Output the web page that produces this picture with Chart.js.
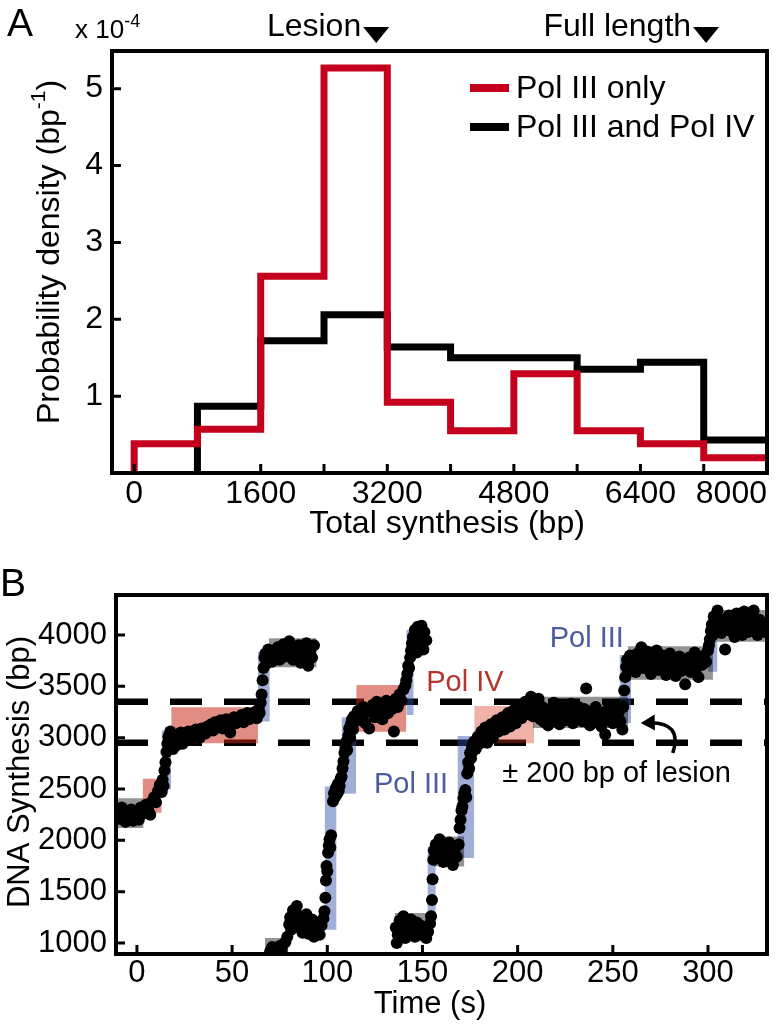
<!DOCTYPE html>
<html><head><meta charset="utf-8">
<script src="https://cdn.jsdelivr.net/npm/chart.js@4.4.1/dist/chart.umd.min.js"></script>
<style>
html,body{margin:0;padding:0;background:#fff;width:783px;height:1024px;overflow:hidden;font-family:"Liberation Sans",Arial,Helvetica,sans-serif;}
#wrapA{position:absolute;left:0;top:0;width:783px;height:545px;}
#wrapB{position:absolute;left:0;top:545px;width:783px;height:479px;}
.lbl{position:absolute;color:#000;white-space:nowrap;line-height:1;}
</style></head><body>
<div id="wrapA"><canvas id="chartA" width="783" height="545"></canvas></div>
<div id="wrapB"><canvas id="chartB" width="783" height="479"></canvas></div>
<div class="lbl" style="left:7px;top:3px;font-size:39px">A</div>
<div class="lbl" style="left:75px;top:16px;font-size:26px">x 10<span style="font-size:18px;position:relative;top:-11px">-4</span></div>
<div class="lbl" style="left:0px;top:563px;font-size:39px">B</div>
<script>
// ---------------- Panel A data ----------------
const binEdges = [0, 800, 1600, 2400, 3200, 4000, 4800, 5600, 6400, 7200, 8000];
const polIIIOnly = [0.38, 0.57, 2.56, 5.27, 0.92, 0.55, 1.29, 0.55, 0.38, 0.20];
const polIIIandIV = [0, 0.87, 1.72, 2.06, 1.64, 1.50, 1.50, 1.35, 1.44, 0.43];
const seriesNamesA = ['Pol III only', 'Pol III and Pol IV'];
const xTickLabelsA = [0, 1600, 3200, 4800, 6400, 8000];
const yTicksA = [1, 2, 3, 4, 5];
const markersA = [{label: 'Lesion', x: 3060}, {label: 'Full length', x: 7230}];

// ---------------- Panel B data ----------------
const xTicksB = [0, 50, 100, 150, 200, 250, 300];
const yTicksB = [1000, 1500, 2000, 2500, 3000, 3500, 4000];
const lesionBand = [2950, 3350];

const trace1Time = [-10,-9,-8,-7,-6,-5,-4,-3,-2,-1,0,1,2,3,4,5,6,7,8,9,10,11,12,13,
  13.5,14,14.5,15,15.5,16,16.5,17,17.5,
  18,19,20,21,22,23,24,25,26,27,28,29,30,31,32,33,34,35,36,37,38,39,40,41,42,43,44,45,46,47,48,49,50,51,52,53,54,55,56,57,58,59,60,61,62,63,64,
  64.5,65,65.5,66,66.5,67,67.5,
  68,69,70,71,72,73,74,75,76,77,78,79,80,81,82,83,84,85,86,87,88,89,90,91,92,93];
const trace1Bp = [2290,2210,2320,2240,2180,2270,2230,2300,2190,2250,2280,2200,2320,2260,2310,2350,2290,2250,2380,2420,2370,2480,2540,2470,
  2590,2530,2680,2760,2860,2940,3010,2920,3060,
  2980,2890,3020,2930,2970,3050,2940,3000,2980,3060,2990,3020,3010,3080,3030,3000,3090,3060,3040,3110,3080,3130,3070,3150,3100,3120,3170,3090,3140,3180,3120,3050,3160,3200,3140,3190,3170,3220,3150,3210,3240,3180,3230,3200,3250,3190,3280,
  3240,3340,3420,3560,3680,3780,3820,
  3720,3860,3790,3740,3850,3800,3880,3760,3830,3910,3790,3860,3940,3820,3760,3880,3810,3900,3730,3850,3790,3920,3700,3840,3780,3900];

const trace2Time = [70,71,72,73,74,75,76,77,78,79,80,80.5,
  81,82,83,84,85,86,87,88,89,90,91,92,93,94,95,96,97,98,
  98.5,99,99.3,99.6,100,100.4,100.8,101.2,101.6,102,
  103,103.5,104,104.5,105,105.5,106,106.5,107,107.5,108,108.5,109,109.5,110,110.5,111,111.5,112,112.5,113,113.5,114,
  115,116,117,118,119,120,121,122,123,124,125,126,127,128,129,130,131,132,133,134,135,136,137,138,139,140,141,
  141.5,142,142.5,143,143.5,144,144.5,145,145.5,146,146.5,147,147.5,148,148.5,149,149.5,150,150.5,151,152];
const trace2Bp = [920,960,910,940,900,970,930,990,1010,1060,1180,1250,
  1130,1320,1200,1360,1150,1260,1100,1210,1280,1090,1170,1230,1060,1150,1200,1080,1170,1240,
  1310,1440,1610,1750,1700,1880,1950,2010,1930,2050,
  2380,2460,2420,2510,2450,2550,2480,2530,2600,2620,2700,2770,2850,2900,2960,2880,3020,3090,3000,3140,3180,3080,3210,
  3160,3260,3190,3230,3300,3140,3250,3090,3280,3320,3200,3350,3260,3310,3180,3290,3360,3240,3330,3280,3060,3380,3300,3420,3360,3470,3510,
  3560,3620,3700,3680,3780,3850,3920,3980,3890,4050,3950,3830,4080,3920,3870,4000,4090,3940,3860,4030,3950];

const trace3Time = [136,136.5,137,138,139,140,141,142,143,144,145,146,147,148,149,150,151,152,153,154,
  154.5,155,155.3,155.7,
  156,157,158,159,160,161,162,163,164,165,166,167,168,169,
  169.5,170,170.5,171,171.5,172,172.5,173,173.5,174,174.5,175,175.5,176,176.5,177,
  178,179,180,181,182,183,184,185,186,187,188,189,190,191,192,193,194,195,196,197,198,199,200,
  201,202,203,204,205,206,207,208,209,210,211,212,213,214,215,216,217,218,219,220,221,222,223,224,225,
  226,227,228,229,230,231,232,233,234,235,236,237,238,239,240,241,242,243,244,245,246,247,248,249,250,
  251,252,253,254,255,
  255.5,256,256.5,257,257.5,
  258,259,260,261,262,263,264,265,266,267,268,269,270,271,272,273,274,275,276,277,278,279,280,
  281,282,283,284,285,286,287,288,289,290,291,292,293,294,295,296,297,298,299,300,
  300.5,301,301.5,302,302.5,303,
  304,305,306,307,308,309,310,311,312,313,314,315,316,317,318,319,320,321,322,323,324,325,326,327,328,329,330];
const trace3Bp = [1150,1000,1080,1220,1120,1260,1050,1180,1100,1230,1140,1060,1200,1120,1170,1080,1150,1050,1110,1190,
  1260,1420,1620,1810,
  1900,1960,1850,2010,1890,1790,1940,1860,1980,1820,1760,1910,1840,1960,
  2120,2200,2290,2330,2410,2460,2490,2420,2650,2760,2700,2850,2800,2920,2870,2960,
  2890,3010,2940,3060,2980,3100,2950,3040,3130,3000,3090,3170,3060,3120,3200,3080,3150,3240,3110,3180,3270,3140,3220,
  3300,3190,3250,3350,3230,3290,3400,3210,3330,3260,3380,3180,3300,3150,3250,3120,3280,3200,3340,3160,3260,3130,3230,3310,3170,
  3270,3200,3330,3140,3250,3190,3300,3220,3160,3280,3480,3210,3120,3260,3180,3300,3150,3240,3110,3200,3030,3270,3170,3230,3140,
  3280,3190,3240,3160,3080,
  3300,3460,3590,3690,3760,
  3650,3800,3700,3750,3640,3820,3720,3880,3680,3760,3840,3700,3620,3780,3730,3850,3660,3750,3800,3690,3610,3740,3820,
  3680,3760,3600,3720,3790,3650,3740,3520,3700,3780,3640,3730,3830,3680,3590,3760,3710,3800,3740,3850,
  3900,3960,4040,4100,4000,4180,
  4060,4240,4110,4020,4150,3860,4080,4190,4040,4120,3980,4210,4070,4140,4000,4230,4090,4030,4160,4060,4240,4110,4000,4150,4050,4120,4030];

// shaded intervals [tStart, tEnd, bpLow, bpHigh]
const grayBoxes = [[-11,3.5,2120,2410],[69.3,94.4,3686,3968],[67.2,79.5,880,1050],[135.6,155,1015,1292],
  [156,172,1746,2038],[208,258,3095,3400],[258,302.6,3565,3890],[304.4,331,3935,4243]];
const redBoxes = [[3,13,2270,2600],[18,63.6,2946,3297],[115.2,141.5,3059,3513]];
const redLightBoxes = [[177.2,208.7,2946,3309]];
const blueBoxes = [[13,18,2499,3069],[63.6,69.8,3157,3838],[98.6,104.9,1130,2524],[107.5,115.2,2453,3199],
  [141.5,145.4,3222,4049],[152.6,157,1210,1940],[168.4,177.2,1827,3017],[253.5,259.6,3141,3805],[300,305,3643,4178]];

// annotation texts (data coordinates of text centre)
const notesB = [
  {text: 'Pol IV', x: 172.3, y: 3533, color: '#b3352b'},
  {text: 'Pol III', x: 236.3, y: 3961, color: '#4b5d9e'},
  {text: 'Pol III', x: 144, y: 2539, color: '#4b5d9e'},
  {text: '\u00b1 200 bp of lesion', x: 252, y: 2646, color: '#000'}
];
const arrowB = {from: {x: 281.5, y: 2851}, ctrl: {x: 286.8, y: 3153}, to: {x: 262.6, y: 3143}};

// ---------------- helpers ----------------
const FONT = '"Liberation Sans", Arial, Helvetica, sans-serif';
Chart.defaults.font.family = FONT;
Chart.defaults.color = '#000';
const RED = '#c4001c';

function histPoints(edges, vals) {
  let i0 = vals.findIndex(v => v > 0);
  const pts = [{x: edges[i0], y: 0}];
  for (let i = i0; i < vals.length; i++) pts.push({x: edges[i], y: vals[i]});
  pts.push({x: edges[edges.length - 1], y: vals[vals.length - 1]});
  return pts;
}
function zip(ts, vs) { return ts.map((t, i) => ({x: t, y: vs[i]})); }

function drawFrame(chart, xVals, yVals) {
  const {ctx, chartArea: {left, right, top, bottom}, scales: {x, y}} = chart;
  ctx.save();
  ctx.strokeStyle = '#000';
  ctx.lineWidth = 3;
  ctx.beginPath();
  xVals.forEach(v => { const px = x.getPixelForValue(v); ctx.moveTo(px, bottom); ctx.lineTo(px, bottom - 9); });
  yVals.forEach(v => { const py = y.getPixelForValue(v); ctx.moveTo(left, py); ctx.lineTo(left + 9, py); });
  ctx.stroke();
  ctx.lineWidth = 4;
  ctx.strokeRect(left, top, right - left, bottom - top);
  ctx.restore();
}
function drawRotatedParts(ctx, cx, cy, parts) {
  ctx.save();
  ctx.translate(cx, cy);
  ctx.rotate(-Math.PI / 2);
  ctx.textBaseline = 'middle';
  ctx.textAlign = 'left';
  let total = 0;
  parts.forEach(p => { ctx.font = p.size + 'px ' + FONT; p.w = ctx.measureText(p.text).width; total += p.w; });
  let xx = -total / 2;
  parts.forEach(p => { ctx.font = p.size + 'px ' + FONT; ctx.fillText(p.text, xx, p.dy || 0); xx += p.w; });
  ctx.restore();
}

// ---------------- Chart A ----------------
const panelAPlugin = {
  id: 'panelA',
  afterDraw(chart) {
    const {ctx, scales: {x}} = chart;
    drawFrame(chart, binEdges, yTicksA);
    ctx.save();
    chart.data.datasets.forEach((ds, i) => {
      const ly = 88 + i * 39;
      ctx.strokeStyle = ds.borderColor; ctx.lineWidth = 8;
      ctx.beginPath(); ctx.moveTo(470, ly); ctx.lineTo(509, ly); ctx.stroke();
      ctx.fillStyle = '#000'; ctx.font = '32px ' + FONT; ctx.textBaseline = 'middle'; ctx.textAlign = 'left';
      ctx.fillText(ds.label, 516, ly + 1);
    });
    markersA.forEach(m => {
      const px = x.getPixelForValue(m.x);
      ctx.fillStyle = '#000';
      ctx.beginPath(); ctx.moveTo(px - 13, 27); ctx.lineTo(px + 13, 27); ctx.lineTo(px, 43); ctx.closePath(); ctx.fill();
      ctx.font = '32px ' + FONT; ctx.textAlign = 'right'; ctx.textBaseline = 'alphabetic';
      ctx.fillText(m.label, px - 15, 36);
    });
    ctx.font = '32px ' + FONT; ctx.textAlign = 'center'; ctx.textBaseline = 'middle';
    ctx.fillText('Total synthesis (bp)', 447, 524);
    ctx.restore();
    drawRotatedParts(ctx, 50, 252, [
      {text: 'Probability density (bp', size: 32},
      {text: '-1', size: 21, dy: -11},
      {text: ')', size: 32}
    ]);
  }
};

new Chart(document.getElementById('chartA'), {
  type: 'line',
  data: {
    datasets: [
      {label: seriesNamesA[0], data: histPoints(binEdges, polIIIOnly), borderColor: RED, borderWidth: 7,
       stepped: 'before', pointRadius: 0, fill: false, borderJoinStyle: 'miter', borderCapStyle: 'butt'},
      {label: seriesNamesA[1], data: histPoints(binEdges, polIIIandIV), borderColor: '#000', borderWidth: 7,
       stepped: 'before', pointRadius: 0, fill: false, borderJoinStyle: 'miter', borderCapStyle: 'butt'}
    ]
  },
  options: {
    responsive: false, animation: false, devicePixelRatio: 1,
    layout: {padding: {left: 0, top: 51, right: 16, bottom: 0}},
    plugins: {legend: {display: false}, tooltip: {enabled: false}},
    events: [],
    scales: {
      x: {
        type: 'linear', min: -280, max: 8000,
        grid: {display: false, drawTicks: false}, border: {display: false},
        afterBuildTicks: s => { s.ticks = [-280].concat(xTickLabelsA).map(v => ({value: v})); },
        afterFit: s => { s.height = 545 - 473; },
        ticks: {autoSkip: false, maxRotation: 0, align: 'inner', padding: 2, font: {size: 32},
                callback: v => (xTickLabelsA.includes(v) ? String(v) : '')}
      },
      y: {
        type: 'linear', min: 0, max: 5.49,
        grid: {display: false, drawTicks: false}, border: {display: false},
        afterBuildTicks: s => { s.ticks = yTicksA.map(v => ({value: v})); },
        afterFit: s => { s.width = 112; },
        ticks: {padding: 9, font: {size: 32}, callback: v => String(v)}
      }
    }
  },
  plugins: [panelAPlugin]
});

// ---------------- Chart B ----------------
function boxDatasets(list, color) {
  return list.map(b => ({
    type: 'line', data: [{x: b[0], y: b[3]}, {x: b[1], y: b[3]}], fill: {value: b[2]},
    backgroundColor: color, borderWidth: 0, pointRadius: 0, order: 2, clip: 0
  }));
}
const dotStyle = {type: 'scatter', pointRadius: 6, pointBackgroundColor: '#000', pointBorderWidth: 0, order: 1, clip: 0, showLine: false};

const panelBPlugin = {
  id: 'panelB',
  afterDraw(chart) {
    const {ctx, scales: {x, y}} = chart;
    drawFrame(chart, xTicksB, yTicksB);
    ctx.save();
    ctx.font = '29px ' + FONT; ctx.textAlign = 'center'; ctx.textBaseline = 'middle';
    notesB.forEach(n => { ctx.fillStyle = n.color; ctx.fillText(n.text, x.getPixelForValue(n.x), y.getPixelForValue(n.y)); });
    const p0 = {x: x.getPixelForValue(arrowB.from.x), y: y.getPixelForValue(arrowB.from.y)};
    const pc = {x: x.getPixelForValue(arrowB.ctrl.x), y: y.getPixelForValue(arrowB.ctrl.y)};
    const p1 = {x: x.getPixelForValue(arrowB.to.x), y: y.getPixelForValue(arrowB.to.y)};
    const ang = Math.atan2(p1.y - pc.y, p1.x - pc.x);
    const bx = p1.x - 12 * Math.cos(ang), by = p1.y - 12 * Math.sin(ang);
    ctx.strokeStyle = '#000'; ctx.lineWidth = 3.5;
    ctx.beginPath(); ctx.moveTo(p0.x, p0.y); ctx.quadraticCurveTo(pc.x, pc.y, bx, by); ctx.stroke();
    ctx.fillStyle = '#000';
    ctx.beginPath();
    ctx.moveTo(p1.x - 4 * Math.cos(ang), p1.y - 4 * Math.sin(ang));
    ctx.lineTo(p1.x - 18 * Math.cos(ang) + 8 * Math.sin(ang), p1.y - 18 * Math.sin(ang) - 8 * Math.cos(ang));
    ctx.lineTo(p1.x - 18 * Math.cos(ang) - 8 * Math.sin(ang), p1.y - 18 * Math.sin(ang) + 8 * Math.cos(ang));
    ctx.closePath(); ctx.fill();
    ctx.fillStyle = '#000'; ctx.font = '31px ' + FONT;
    ctx.fillText('Time (s)', 430, 459);
    ctx.restore();
    drawRotatedParts(ctx, 20, 227, [{text: 'DNA Synthesis (bp)', size: 31}]);
  }
};

new Chart(document.getElementById('chartB'), {
  type: 'scatter',
  data: {
    datasets: [
      Object.assign({data: zip(trace1Time, trace1Bp)}, dotStyle),
      Object.assign({data: zip(trace2Time, trace2Bp)}, dotStyle),
      Object.assign({data: zip(trace3Time, trace3Bp)}, dotStyle),
      ...boxDatasets(grayBoxes, 'rgba(0,0,0,0.42)'),
      ...boxDatasets(redBoxes, 'rgba(200,40,20,0.53)'),
      ...boxDatasets(redLightBoxes, 'rgba(215,50,30,0.38)'),
      ...boxDatasets(blueBoxes, 'rgba(50,80,170,0.46)'),
      ...lesionBand.map(v => ({type: 'line', data: [{x: -11, y: v}, {x: 331, y: v}], borderColor: '#000',
        borderWidth: 6.5, borderDash: [32, 22], pointRadius: 0, fill: false, order: 3, clip: 0}))
    ]
  },
  options: {
    responsive: false, animation: false, devicePixelRatio: 1,
    layout: {padding: {left: 0, top: 50, right: 16, bottom: 0}},
    plugins: {legend: {display: false}, tooltip: {enabled: false}},
    events: [],
    scales: {
      x: {
        type: 'linear', min: -11, max: 331,
        grid: {display: false, drawTicks: false}, border: {display: false},
        afterBuildTicks: s => { s.ticks = xTicksB.map(v => ({value: v})); },
        afterFit: s => { s.height = 479 - 409; },
        ticks: {autoSkip: false, maxRotation: 0, padding: 1, font: {size: 31}, callback: v => String(v)}
      },
      y: {
        type: 'linear', min: 893, max: 4390,
        grid: {display: false, drawTicks: false}, border: {display: false},
        afterBuildTicks: s => { s.ticks = yTicksB.map(v => ({value: v})); },
        afterFit: s => { s.width = 116; },
        ticks: {padding: 9, font: {size: 31}, callback: v => String(v)}
      }
    }
  },
  plugins: [panelBPlugin]
});
</script>
</body></html>
